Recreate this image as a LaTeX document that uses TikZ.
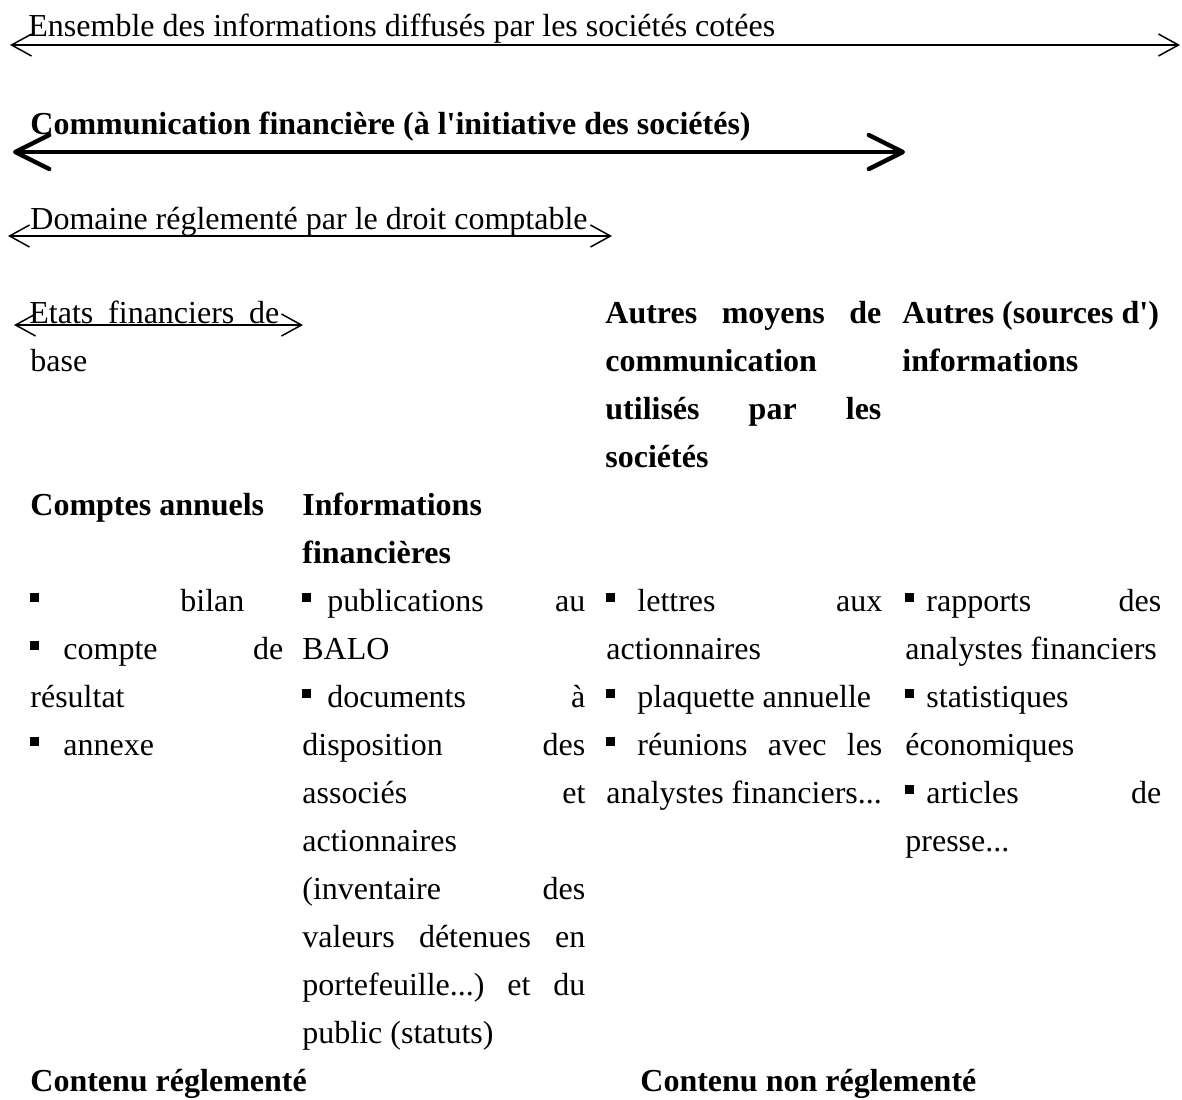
\documentclass[tikz,border=0pt]{standalone}
\usepackage{fontspec}
\setmainfont{Liberation Serif}
\usetikzlibrary{arrows.meta}

\newcommand{\puce}{\rule[4.5pt]{4.5pt}{4.5pt}}
\newcommand{\just}[2]{\hbox to \dimexpr#1pt/2\relax{#2}}

\tikzset{
  txt/.style={anchor=base west, inner sep=0pt, font=\fontsize{16}{24}\selectfont},
  gras/.style={txt, font=\fontsize{16}{24}\selectfont\bfseries},
  barbe/.tip={Straight Barb[length=10pt,width=11pt]},
  grossebarbe/.tip={Straight Barb[length=17pt,width=17pt,round]},
  fleche/.style={line width=0.75pt, barbe-barbe},
  grossefleche/.style={line width=2.2pt, line cap=round, grossebarbe-grossebarbe},
}

\begin{document}
\begin{tikzpicture}[x=0.5pt,y=-0.5pt]
  \fill[white] (0,0) rectangle (1182,1099);
  \useasboundingbox (0,0) rectangle (1182,1099);

  % bandeaux du haut
  \node[txt] (ens) at (28,36) {Ensemble des informations diffusés par les sociétés cotées};
  \coordinate (ensG) at (10,45);
  \coordinate (ensD) at (1180,45);
  \draw[fleche] (ensG) -- (ensD);

  \node[gras] (comm) at (30,134) {Communication financière (à l\textquotesingle initiative des sociétés)};
  \coordinate (commG) at (13,152);
  \coordinate (commD) at (905,152);
  \draw[grossefleche] (commG) -- (commD);

  \node[txt] (dom) at (30,229) {Domaine réglementé par le droit comptable};
  \coordinate (domG) at (8,236);
  \coordinate (domD) at (612,236);
  \draw[fleche] (domG) -- (domD);

  \node[txt] (etats) at (29,323) {\just{250}{Etats\hfill financiers\hfill de}};
  \node[txt] (base) at (30,371) {base};
  \coordinate (etatsG) at (14,325);
  \coordinate (etatsD) at (303,325);
  \draw[fleche] (etatsG) -- (etatsD);

  % titres des colonnes
  \node[gras] (moyens1) at (605,323) {\just{276}{Autres\hfill moyens\hfill de}};
  \node[gras] (moyens2) at (605,371) {communication};
  \node[gras] (moyens3) at (605,419) {\just{276}{utilisés\hfill par\hfill les}};
  \node[gras] (moyens4) at (605,467) {sociétés};

  \node[gras] (autres1) at (902,323) {Autres (sources d\textquotesingle)};
  \node[gras] (autres2) at (902,371) {informations};

  \node[gras] (comptes) at (30,515) {Comptes annuels};
  \node[gras] (infos1) at (302,515) {Informations};
  \node[gras] (infos2) at (302,563) {financières};

  % colonne 1
  \node[txt] (bilan) at (30,611) {\just{214}{\puce\hfill bilan}};
  \node[txt] (compte) at (30,659) {\just{253}{\puce\hspace{12pt}compte\hfill de}};
  \node[txt] (resultat) at (30,707) {résultat};
  \node[txt] (annexe) at (30,755) {\puce\hspace{12pt}annexe};

  % colonne 2
  \node[txt] (pub) at (302,611) {\just{283}{\puce\hspace{8pt}publications\hfill au}};
  \node[txt] (balo) at (302,659) {BALO};
  \node[txt] (docs) at (302,707) {\just{283}{\puce\hspace{8pt}documents\hfill à}};
  \node[txt] (dispo) at (302,755) {\just{283}{disposition\hfill des}};
  \node[txt] (assoc) at (302,803) {\just{283}{associés\hfill et}};
  \node[txt] (action) at (302,851) {actionnaires};
  \node[txt] (invent) at (302,899) {\just{283}{(inventaire\hfill des}};
  \node[txt] (valeurs) at (302,947) {\just{283}{valeurs\hfill détenues\hfill en}};
  \node[txt] (porte) at (302,995) {\just{283}{portefeuille...)\hfill et\hfill du}};
  \node[txt] (public) at (302,1043) {public (statuts)};

  % colonne 3
  \node[txt] (lettres) at (606,611) {\just{276}{\puce\hspace{11pt}lettres\hfill aux}};
  \node[txt] (action2) at (606,659) {actionnaires};
  \node[txt] (plaq) at (606,707) {\puce\hspace{11pt}plaquette annuelle};
  \node[txt] (reun) at (606,755) {\just{276}{\puce\hspace{11pt}réunions\hfill avec\hfill les}};
  \node[txt] (analy) at (606,803) {analystes financiers...};

  % colonne 4
  \node[txt] (rapp) at (905,611) {\just{256}{\puce\hspace{6pt}rapports\hfill des}};
  \node[txt] (analy2) at (905,659) {analystes financiers};
  \node[txt] (stat) at (905,707) {\puce\hspace{6pt}statistiques};
  \node[txt] (eco) at (905,755) {économiques};
  \node[txt] (art) at (905,803) {\just{256}{\puce\hspace{6pt}articles\hfill de}};
  \node[txt] (presse) at (905,851) {presse...};

  % bas
  \node[gras] (regl) at (30,1091) {Contenu réglementé};
  \node[gras] (nonregl) at (640,1091) {Contenu non réglementé};
\end{tikzpicture}
\end{document}
